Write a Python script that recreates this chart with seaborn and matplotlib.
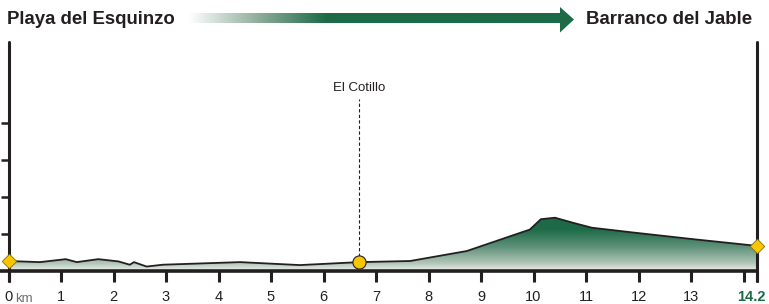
import numpy as np
import pandas as pd
import seaborn as sns
import matplotlib.pyplot as plt
import matplotlib.transforms as mtransforms
from matplotlib.colors import LinearSegmentedColormap
from matplotlib.patches import Polygon

## route profile (km, m)
km = [0, 0.60, 1.09, 1.30, 1.71, 2.09, 2.31, 2.39, 2.63, 2.94, 4.41, 5.55,
      6.68, 7.65, 8.73, 9.93, 10.14, 10.41, 10.76, 11.11, 11.90, 13.04, 14.25]
elev = [13.5, 12, 16, 12, 16, 13, 8.5, 12, 6, 8.5, 12, 8,
        12, 13.5, 27, 56, 70, 72, 65, 58.5, 52, 43, 34]

start_name = "Playa del Esquinzo"
end_name = "Barranco del Jable"
stop_name = "El Cotillo"
stop_km = 6.68
stop_elev = 12
route_len = 14.25
route_label = "14.2"

tick_km = list(range(0, 15)) + [route_len]
tick_lab = [str(i) for i in range(0, 14)] + ["", route_label]
elev_ticks = [50, 100, 150, 200]

GREEN = "#1d6a47"
INK = "#231f20"
GOLD = "#f7c600"

sns.set_style("white")
plt.rcParams['font.family'] = ['Liberation Sans', 'DejaVu Sans']

W, H = 769, 304
fig = plt.figure(figsize=(W / 100, H / 100), dpi=100)

## overlay in pixel coordinates for the header arrow
deco = fig.add_axes([0, 0, 1, 1], zorder=0)
deco.set_xlim(0, W)
deco.set_ylim(H, 0)
deco.axis("off")
grad = LinearSegmentedColormap.from_list("g", ["#ffffff", "#8fae9c", GREEN, GREEN],)
bar = np.linspace(0, 1, 300).reshape(1, -1)
bar = np.clip(bar * 1.8, 0, 1)
deco.imshow(bar, cmap=grad, extent=[188, 561, 23.5, 14], aspect="auto", interpolation="bilinear")
deco.add_patch(Polygon([[560, 7], [574, 19.5], [560, 32.5]], closed=True, color=GREEN, lw=0))
deco.text(7, 20, start_name, fontsize=13.4, fontweight="bold", color=INK, va="center", ha="left")
deco.text(752, 20, end_name, fontsize=13.4, fontweight="bold", color=INK, va="center", ha="right")

## main profile axes
x0, x1 = 8.5, 8.5 + 52.5 * route_len
yb, yt = 271, 42
ax = fig.add_axes([x0 / W, (H - yb) / H, (x1 - x0) / W, (yb - yt) / H], zorder=1)
ax.patch.set_alpha(0)
ytop = (yb - yt) / 0.74
ax.set_xlim(0, route_len)
ax.set_ylim(0, ytop)

df = pd.DataFrame({"km": km, "elev": elev})

## vertical gradient fill clipped to the profile
fill_cmap = LinearSegmentedColormap.from_list(
    "f", [(0, "#eef1ee"), (0.13, "#b2c5b7"), (0.4, "#5f927a"), (0.7, GREEN), (1, GREEN)])
grid = np.linspace(0, 1, 256).reshape(-1, 1)
img = ax.imshow(grid, cmap=fill_cmap, extent=[0, route_len, 0, 80], origin="lower",
                aspect="auto", interpolation="bilinear", zorder=1)
clip = Polygon(np.vstack([[0, 0], df[["km", "elev"]].values, [route_len, 0]]), closed=True,
               transform=ax.transData, facecolor="none", edgecolor="none")
ax.add_patch(clip)
img.set_clip_path(clip)

sns.lineplot(data=df, x="km", y="elev", color=INK, lw=1.3, ax=ax, zorder=3)

## stop marker and label
ax.plot([stop_km, stop_km], [stop_elev, ytop * 0.752], ls=(0, (3, 2)), color=INK, lw=0.8, zorder=2)
ax.text(stop_km, ytop * 0.772, stop_name, ha="center", va="bottom", fontsize=9.5, color=INK)
sns.scatterplot(x=[stop_km], y=[stop_elev], marker="o", s=90, color=GOLD,
                edgecolor=INK, linewidth=0.8, ax=ax, zorder=5, clip_on=False)
sns.scatterplot(x=[km[0], km[-1]], y=[elev[0], elev[-1]], marker="D", s=55, color=GOLD,
                edgecolor="#8a6d00", linewidth=0.6, ax=ax, zorder=5, clip_on=False)

## axes lines
for s in ax.spines.values():
    s.set_visible(False)
ax.axvline(0, ymin=-0.045, ymax=1, color=INK, lw=2.2, clip_on=False, zorder=4)
ax.axvline(route_len, ymin=-0.045, ymax=1, color=INK, lw=2.2, clip_on=False, zorder=4)
ax.axhline(0, xmin=-0.012, xmax=1, color=INK, lw=2.6, clip_on=False, zorder=4)

ax.set_xticks(tick_km)
ax.set_xticklabels(tick_lab)
ax.set_yticks(elev_ticks)
ax.set_yticklabels([])
ax.tick_params(axis="x", direction="out", length=8, width=2.2, color=INK, pad=6,
               labelsize=10.5, labelcolor=INK, bottom=True)
ax.tick_params(axis="y", direction="out", length=6, width=1.8, color=INK, left=True)
lbl = ax.get_xticklabels()[-1]
lbl.set_fontweight("bold")
lbl.set_color(GREEN)
## nudge the end label left so it stays inside the picture
lbl.set_transform(lbl.get_transform() + mtransforms.ScaledTranslation(-5 / 100, 0, fig.dpi_scale_trans))
ax.set_xlabel("")
ax.set_ylabel("")
ax.annotate("km", xy=(15.5, 271), xycoords="figure pixels", xytext=(15.5, 304 - 302),
            textcoords="figure pixels", fontsize=9.5, color="#6d6e71", ha="left", va="baseline")

fig.savefig("out.png", dpi=100)
